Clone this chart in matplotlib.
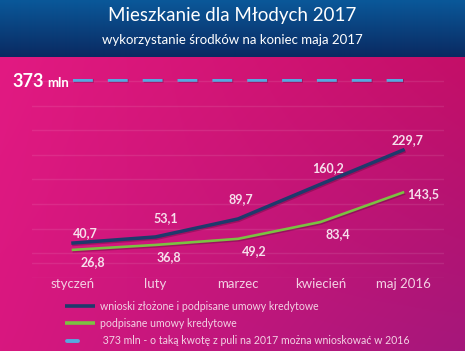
import numpy as np
import matplotlib
matplotlib.use("Agg")
import matplotlib.pyplot as plt
import matplotlib.patheffects as pe
from matplotlib.colors import to_rgb

plt.rcParams['font.family'] = ['Lato', 'DejaVu Sans']

# ---- data ----
months = ["styczeń", "luty", "marzec", "kwiecień", "maj 2016"]
wnioski = [40.7, 53.1, 89.7, 160.2, 229.7]
podpisane = [26.8, 36.8, 49.2, 83.4, 143.5]
pula = 373
labels_wnioski = ["40,7", "53,1", "89,7", "160,2", "229,7"]
labels_podpisane = ["26,8", "36,8", "49,2", "83,4", "143,5"]
legend_texts = ["wnioski złożone i podpisane umowy kredytowe",
                "podpisane umowy kredytowe",
                " 373 mln - o taką kwotę z puli na 2017 można wnioskować w 2016"]
title = "Mieszkanie dla Młodych 2017"
subtitle = "wykorzystanie środków na koniec maja 2017"

W, H = 465, 351
fig = plt.figure(figsize=(W / 100, H / 100), dpi=100)

# ---- background ----
bg = fig.add_axes([0, 0, 1, 1])
bg.set_xlim(0, W)
bg.set_ylim(H, 0)
bg.axis('off')
img = np.zeros((H, W, 3))
hb = 57
top_c, bot_c = np.array(to_rgb('#0a5899')), np.array(to_rgb('#0a2a62'))
for r in range(hb):
    t = r / (hb - 1)
    img[r, :, :] = top_c * (1 - t) + bot_c * t
tl, tr = np.array(to_rgb('#e21a82')), np.array(to_rgb('#c40f68'))
bl, br = np.array(to_rgb('#d8177f')), np.array(to_rgb('#a5177b'))
xs = np.linspace(0, 1, W)[None, :, None]
ys = np.linspace(0, 1, H - hb)[:, None, None]
pink = (tl * (1 - xs) * (1 - ys) + tr * xs * (1 - ys) +
        bl * (1 - xs) * ys + br * xs * ys)
img[hb:, :, :] = pink
bg.imshow(img, extent=[0, W, H, 0], aspect='auto', zorder=0)

fig.text(0.5, 1 - 16 / H, title, ha='center', va='center', color='white', fontsize=13.5)
fig.text(0.5, 1 - 40 / H, subtitle, ha='center', va='center', color='white', fontsize=9.5)

# ---- main axes ----
ax = fig.add_axes([31.75 / W, 73.2 / H, 412.5 / W, 199.2 / H])
ax.patch.set_alpha(0)
for s in ax.spines.values():
    s.set_visible(False)
x = np.arange(len(months))
ax.set_xlim(-0.5, len(months) - 0.5)
ax.set_ylim(-30, 375)
ax.set_yticks(np.arange(-30, 371, 50))
ax.yaxis.grid(True, color='white', alpha=0.09, lw=1)
ax.axhline(0, color='white', alpha=0.09, lw=1)
ax.tick_params(axis='y', left=False, labelleft=False)
ax.set_xticks(x)
ax.set_xticklabels(months, color='#f3d0e3', fontsize=9.5)
ax.tick_params(axis='x', length=0, pad=0)

shadow = [pe.SimpleLineShadow(offset=(0.6, -1.0), alpha=0.25, shadow_color='#200018'), pe.Normal()]
ax.plot(x, [pula] * len(months), color='#55a9e0', lw=2.6, solid_capstyle='butt',
        linestyle=(0, (5.5, 4.15)), path_effects=shadow, zorder=3)
ax.plot(x, wnioski, color='#1e3a6c', lw=2.5, path_effects=shadow, zorder=4,
        solid_joinstyle='round')
ax.plot(x, podpisane, color='#7cc142', lw=1.9, path_effects=shadow, zorder=4,
        solid_joinstyle='round')

off_w = [(12, 10.3), (10.5, 18.6), (3, 19.6), (7.5, 16.2), (5, 10)]
off_p = [(20, -11.9), (13.5, -12.1), (16, -11.9), (17.5, -12), (20, -1.6)]
lab_col = '#f6e0ec'
for i in range(len(months)):
    ax.annotate(labels_wnioski[i], (x[i], wnioski[i]),
                xytext=(off_w[i][0] * 0.72, off_w[i][1] * 0.72), textcoords='offset points',
                ha='center', va='center', color=lab_col, fontsize=9, fontweight='bold')
    ax.annotate(labels_podpisane[i], (x[i], podpisane[i]),
                xytext=(off_p[i][0] * 0.72, off_p[i][1] * 0.72), textcoords='offset points',
                ha='center', va='center', color=lab_col, fontsize=9, fontweight='bold')

# "373 mln" label
bg.text(12, 87, str(pula), ha='left', va='baseline', color='white', fontsize=13, fontweight='bold')
bg.text(47, 87, "mln", ha='left', va='baseline', color='white', fontsize=9.5, fontweight='bold')

# ---- legend ----
leg_col = '#f2d2e4'
rows = [306, 323.3, 340.7]
bg.plot([65, 95], [rows[0]] * 2, color='#1e3a6c', lw=2.6, solid_capstyle='butt')
bg.plot([65, 95], [rows[1]] * 2, color='#7cc142', lw=2.6, solid_capstyle='butt')
bg.plot([67, 78], [rows[2]] * 2, color='#55a9e0', lw=2.8, solid_capstyle='round')
for r, t in zip(rows, legend_texts):
    bg.text(100, r, t, ha='left', va='center', color=leg_col, fontsize=7.6)

fig.savefig('out.png', dpi=100)
